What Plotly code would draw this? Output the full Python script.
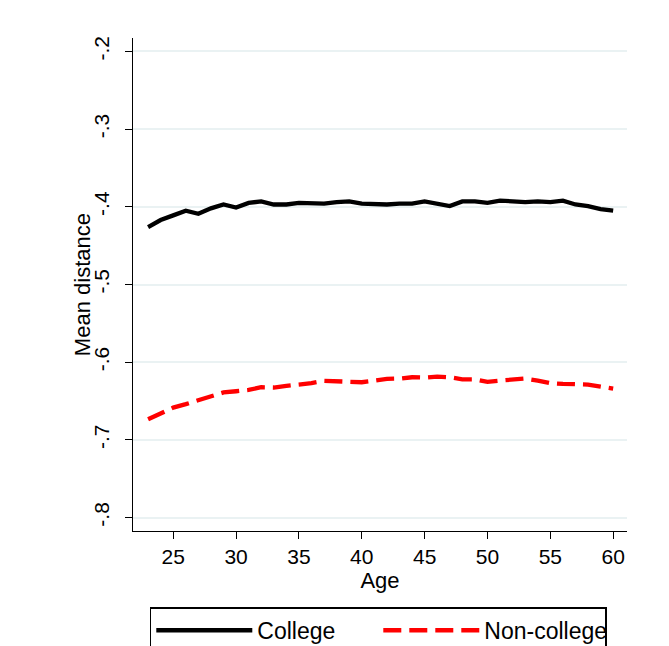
import plotly.graph_objects as go

ages = list(range(23, 61))
college = [-0.426, -0.417, -0.411, -0.405, -0.409, -0.402, -0.397, -0.401, -0.395, -0.393,
           -0.397, -0.397, -0.395, -0.395, -0.396, -0.394, -0.393, -0.396, -0.397, -0.397,
           -0.396, -0.396, -0.393, -0.396, -0.399, -0.393, -0.393, -0.395, -0.392, -0.393,
           -0.394, -0.393, -0.394, -0.392, -0.397, -0.399, -0.403, -0.405]
noncollege = [-0.6735, -0.6657, -0.6585, -0.654, -0.6486, -0.6443, -0.639, -0.6374, -0.6357, -0.6322,
              -0.6326, -0.6305, -0.6292, -0.627, -0.624, -0.6249, -0.6258, -0.6258, -0.6237, -0.6215,
              -0.6211, -0.6194, -0.6198, -0.6185, -0.6194, -0.622, -0.622, -0.6254, -0.6237, -0.6228,
              -0.6211, -0.6237, -0.627, -0.6279, -0.6288, -0.6288, -0.6314, -0.634]
ytick_vals = [-0.8, -0.7, -0.6, -0.5, -0.4, -0.3, -0.2]
ytick_text = ["-.8", "-.7", "-.6", "-.5", "-.4", "-.3", "-.2"]
xtick_vals = [25, 30, 35, 40, 45, 50, 55, 60]

FONT = "Liberation Sans, Arial, sans-serif"

fig = go.Figure()
fig.add_trace(go.Scatter(x=ages, y=college, mode="lines", name="College",
                         line=dict(color="black", width=4.3)))
fig.add_trace(go.Scatter(x=ages, y=noncollege, mode="lines", name="Non-college",
                         line=dict(color="#ff0000", width=4.3, dash="18px,8px")))

fig.update_layout(
    width=669, height=646,
    margin=dict(l=133, r=42, t=38, b=115),
    paper_bgcolor="white", plot_bgcolor="white",
    font=dict(family=FONT, size=21, color="black"),
    showlegend=True,
    legend=dict(orientation="h", xref="paper", x=0.034, xanchor="left",
                yref="container", y=1 - 607.3 / 646, yanchor="top",
                bordercolor="black", borderwidth=1.5, bgcolor="white",
                font=dict(size=23), itemwidth=96, entrywidth=116,
                traceorder="normal"),
    xaxis=dict(range=[21.8, 61.1], tickvals=xtick_vals, ticks="outside", ticklen=7,
               tickwidth=1.3, tickcolor="black", showline=True, linecolor="black",
               linewidth=1.3, showgrid=False, zeroline=False,
               title=dict(text="Age", standoff=0, font=dict(size=22)),
               tickfont=dict(size=21)),
    yaxis=dict(range=[-0.8173, -0.1827], tickvals=ytick_vals, ticktext=ytick_text,
               ticks="outside", ticklen=7, tickwidth=1.3, tickcolor="black",
               showline=True, linecolor="black", linewidth=1.3,
               showgrid=True, gridcolor="#eaf2f3", gridwidth=2, zeroline=False,
               tickangle=-90, tickfont=dict(size=21), ticklabelstandoff=7),
    annotations=[dict(text="Mean distance", textangle=-90, showarrow=False,
                      xref="paper", yref="paper", x=(83 - 133.3) / 493.4, y=0.5,
                      xanchor="center", yanchor="middle", font=dict(size=22))],
)

fig.write_html("out.html")
